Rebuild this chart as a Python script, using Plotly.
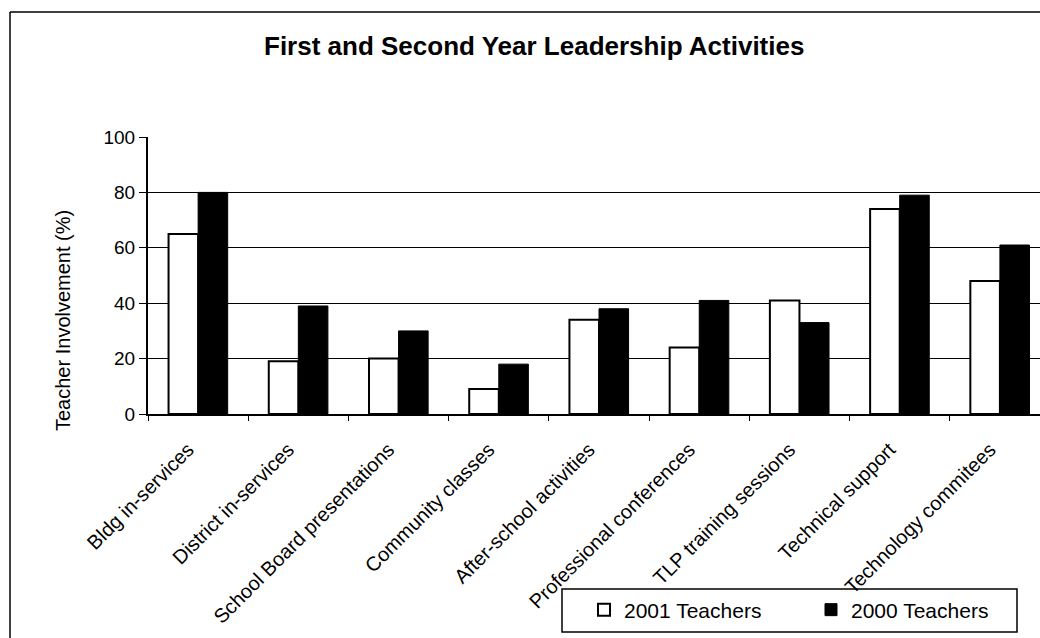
import plotly.graph_objects as go

categories = ["Bldg in-services", "District in-services", "School Board presentations",
              "Community classes", "After-school activities", "Professional conferences",
              "TLP training sessions", "Technical support", "Technology commitees"]
teachers_2001 = [65, 19, 20, 9, 34, 24, 41, 74, 48]
teachers_2000 = [80, 39, 30, 18, 38, 41, 33, 79, 61]
y_ticks = [0, 20, 40, 60, 80, 100]

FONT = "Liberation Sans, Arial, sans-serif"

W, H = 1040, 638
L, R, T, B = 148, 0, 137, 224
pw, ph = W - L - R, H - T - B

def px_x(x):
    return (x - L) / pw

def px_y(y):
    return (T + ph - y) / ph

fig = go.Figure()
fig.add_trace(go.Bar(name="2001 Teachers", x=categories, y=teachers_2001,
                     marker=dict(color="white", line=dict(color="black", width=2))))
fig.add_trace(go.Bar(name="2000 Teachers", x=categories, y=teachers_2000,
                     marker=dict(color="black", line=dict(color="black", width=1))))

fig.update_layout(
    width=W, height=H,
    margin=dict(l=L, r=R, t=T, b=B, pad=0, autoexpand=False),
    paper_bgcolor="white", plot_bgcolor="white",
    barmode="group", bargap=0.41, bargroupgap=0,
    font=dict(family=FONT, color="black", size=19),
    showlegend=True,
    legend=dict(orientation="h", x=px_x(584), y=px_y(610), xanchor="left", yanchor="middle",
                borderwidth=0, bgcolor="rgba(0,0,0,0)",
                font=dict(size=21, family=FONT), entrywidth=182, entrywidthmode="pixels",
                itemwidth=30, traceorder="normal"),
    xaxis=dict(range=[-0.5, 8.4], tickangle=-45, showgrid=False, showline=True,
               linecolor="black", linewidth=2, ticks="outside", ticklen=5, tickcolor="black",
               tickson="boundaries", tickfont=dict(size=20, family=FONT), automargin=False,
               ticklabelstandoff=14, ticklabelshift=-10),
    yaxis=dict(range=[0, 100], tickvals=y_ticks, showgrid=True, gridcolor="black",
               gridwidth=1.2, showline=True, linecolor="black", linewidth=2, ticks="outside",
               ticklen=7, tickcolor="black", tickfont=dict(size=19, family=FONT), zeroline=False,
               automargin=False),
)

fig.add_annotation(text="<b>First and Second Year Leadership Activities</b>", xref="paper", yref="paper",
                   x=px_x(534), y=px_y(46), xanchor="center", yanchor="middle", showarrow=False,
                   font=dict(size=26, family=FONT))
fig.add_annotation(text="Teacher Involvement (%)", xref="paper", yref="paper", textangle=-90,
                   x=px_x(63), y=px_y(321), xanchor="center", yanchor="middle", showarrow=False,
                   font=dict(size=20, family=FONT))

# outer chart frame
fig.add_shape(type="line", xref="paper", yref="paper", x0=px_x(10), x1=px_x(1045),
              y0=px_y(12), y1=px_y(12), line=dict(color="black", width=1.5))
fig.add_shape(type="line", xref="paper", yref="paper", x0=px_x(10), x1=px_x(10),
              y0=px_y(12), y1=px_y(645), line=dict(color="black", width=1.5))
# legend box
fig.add_shape(type="rect", xref="paper", yref="paper", x0=px_x(562), x1=px_x(1017),
              y0=px_y(632), y1=px_y(589), line=dict(color="black", width=1.5),
              fillcolor="rgba(0,0,0,0)")

fig.write_html("out.html", config={"displayModeBar": False},
               post_script="document.body.style.margin='0';document.body.style.overflow='hidden';")
